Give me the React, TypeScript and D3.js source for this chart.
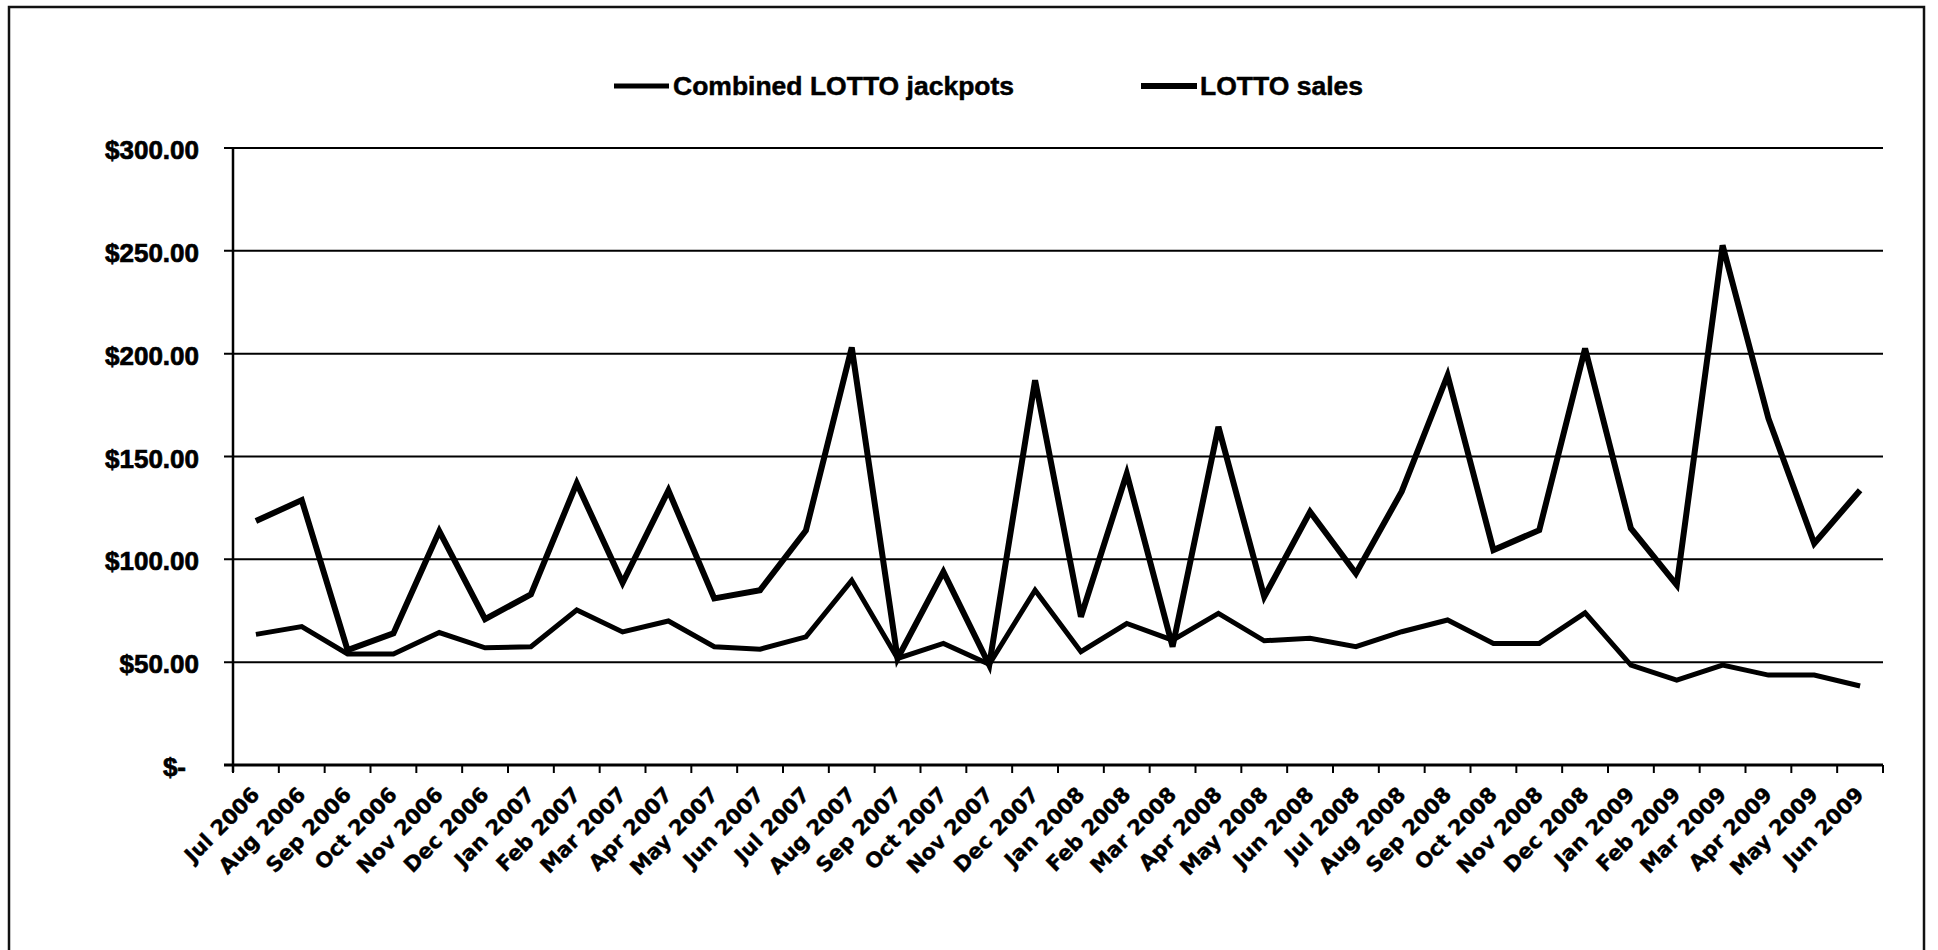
import React from "react";
import * as d3 from "d3";

// Monthly categories, July 2006 through June 2009
const months: string[] = [
  "Jul 2006", "Aug 2006", "Sep 2006", "Oct 2006", "Nov 2006", "Dec 2006",
  "Jan 2007", "Feb 2007", "Mar 2007", "Apr 2007", "May 2007", "Jun 2007",
  "Jul 2007", "Aug 2007", "Sep 2007", "Oct 2007", "Nov 2007", "Dec 2007",
  "Jan 2008", "Feb 2008", "Mar 2008", "Apr 2008", "May 2008", "Jun 2008",
  "Jul 2008", "Aug 2008", "Sep 2008", "Oct 2008", "Nov 2008", "Dec 2008",
  "Jan 2009", "Feb 2009", "Mar 2009", "Apr 2009", "May 2009", "Jun 2009",
];

// Combined LOTTO jackpots ($ millions)
const jackpots: number[] = [
  63.5, 67.3, 54, 54, 64.4, 57, 57.5, 75.4, 64.7, 70, 57.5, 56.3,
  62.3, 89.8, 51.8, 59.1, 49, 85, 55.1, 68.8, 60.7, 73.7, 60.4, 61.6,
  57.5, 64.8, 70.5, 59.1, 59.1, 74, 48.6, 41.3, 48.6, 43.7, 43.7, 38.4,
];

// LOTTO sales ($ millions)
const sales: number[] = [
  118.6, 128.8, 55.9, 64, 113.7, 70.9, 83, 137, 88.6, 133.5, 81, 85,
  114, 203, 51.8, 93.9, 48.6, 187.1, 72.1, 141.7, 57.5, 164.4, 81.8, 123.1,
  93.1, 133, 189.5, 104.5, 114.2, 202.5, 115, 87.5, 252.7, 168.5, 107.7, 133.6,
];

const yTicks: number[] = [0, 50, 100, 150, 200, 250, 300];

const legendLabels: string[] = ["Combined LOTTO jackpots", "LOTTO sales"];

const W = 1938;
const H = 950;
const plot = { left: 233, right: 1883, top: 148, bottom: 765 };
const FONT = "'Liberation Sans', Arial, Helvetica, sans-serif";
const WIDE_FONT = "'DejaVu Sans', Verdana, sans-serif";

const fmt = (v: number) => (v === 0 ? "$-" : "$" + d3.format(",.2f")(v));

export default function App() {
  const x = d3.scaleBand<string>().domain(months).range([plot.left, plot.right]);
  const y = d3.scaleLinear().domain([0, 300]).range([plot.bottom, plot.top]);
  const cx = (m: string) => (x(m) as number) + x.bandwidth() / 2;

  const line = d3
    .line<number>()
    .x((_, i) => cx(months[i]))
    .y((d) => y(d));

  const tickXs = months.map((m) => x(m) as number).concat([plot.right]);

  return (
    <svg
      width={W}
      height={H}
      style={{ position: "absolute", left: 0, top: 0, display: "block", background: "#fff" }}
    >
      {/* chart frame */}
      <rect x={9} y={7} width={1915} height={960} fill="none" stroke="#111" strokeWidth={2.5} />

      {/* legend */}
      <g fontFamily={FONT} fontWeight="bold" fontSize={26.5} fill="#000" stroke="#000" strokeWidth={0.5}>
        <line x1={614} x2={669} y1={86} y2={86} stroke="#000" strokeWidth={5} />
        <text x={673} y={95}>{legendLabels[0]}</text>
        <line x1={1141} x2={1197} y1={86} y2={86} stroke="#000" strokeWidth={6} />
        <text x={1200} y={95}>{legendLabels[1]}</text>
      </g>

      {/* horizontal gridlines and y labels */}
      {yTicks.map((t) => (
        <line
          key={"g" + t}
          x1={plot.left - 9}
          x2={plot.right}
          y1={y(t)}
          y2={y(t)}
          stroke="#000"
          strokeWidth={t === 0 ? 3 : 2}
        />
      ))}
      <g fontFamily={FONT} fontWeight="bold" fontSize={26} fill="#000" stroke="#000" strokeWidth={0.7}>
        {yTicks.map((t) => (
          <text key={"l" + t} x={t === 0 ? 186 : 199} y={y(t) + 11} textAnchor="end">
            {fmt(t)}
          </text>
        ))}
      </g>

      {/* y axis */}
      <line x1={plot.left} x2={plot.left} y1={plot.top} y2={plot.bottom + 7} stroke="#000" strokeWidth={2.5} />

      {/* x ticks */}
      {tickXs.map((tx, i) => (
        <line key={i} x1={tx} x2={tx} y1={plot.bottom} y2={plot.bottom + 8} stroke="#000" strokeWidth={2} />
      ))}

      {/* x labels */}
      <g fontFamily={WIDE_FONT} fontWeight="bold" fontSize={21} fill="#000" stroke="#000" strokeWidth={0.4}>
        {months.map((m) => (
          <text
            key={m}
            transform={`translate(${cx(m) + 5},${plot.bottom + 31}) rotate(-45)`}
            textAnchor="end"
          >
            {m}
          </text>
        ))}
      </g>

      {/* series */}
      <path d={line(jackpots) || ""} fill="none" stroke="#000" strokeWidth={5} strokeLinejoin="miter" />
      <path d={line(sales) || ""} fill="none" stroke="#000" strokeWidth={6} strokeLinejoin="miter" />
    </svg>
  );
}
